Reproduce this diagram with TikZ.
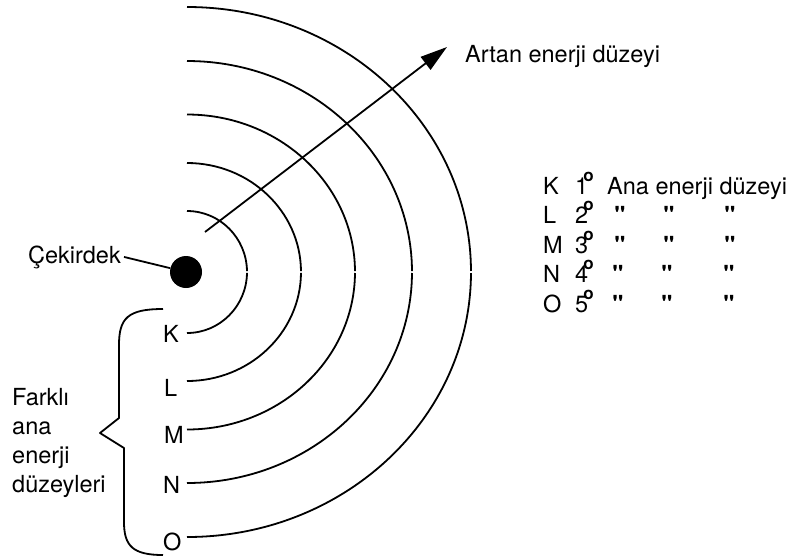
\documentclass[tikz,border=0pt]{standalone}
\usepackage{fontspec}
\setmainfont{TeX Gyre Heros}
\newfontfamily\dittofont{TeX Gyre Heros}[Ligatures=TeXOff]
\usetikzlibrary{arrows.meta}

\newcommand{\degmark}{\kern-5pt\raisebox{13pt}{\fontsize{17}{17}\selectfont\bfseries o}}

\begin{document}
\begin{tikzpicture}[
    x=1pt, y=-1pt,
    shell/.style={line width=1.8pt},
    lbl/.style={inner sep=0pt, font=\fontsize{23.5}{29}\selectfont},
    ditto/.style={inner sep=0pt, anchor=base, font=\fontsize{23.5}{29}\dittofont\bfseries},
    energyarrow/.style={-{Triangle[length=27pt,width=16pt]}, line width=1.8pt},
    brace/.style={line width=1.8pt, line join=round}
  ]
  \useasboundingbox (0,0) rectangle (797,558);

  % nucleus and shells
  \node[circle, fill, inner sep=0pt, minimum size=32pt] (nucleus) at (186,272) {};
  \draw[shell] (187,272) ++(-90:60 and 61) arc[start angle=-90, end angle=-0.9, x radius=60, y radius=61];
  \draw[shell] (187,272) ++(0.9:60 and 61) arc[start angle=0.9, end angle=90, x radius=60, y radius=61];
  \draw[shell] (187,272) ++(-90:114 and 109) arc[start angle=-90, end angle=-0.5, x radius=114, y radius=109];
  \draw[shell] (187,272) ++(0.5:114 and 109) arc[start angle=0.5, end angle=90, x radius=114, y radius=109];
  \draw[shell] (187,272) ++(-90:168 and 157.5) arc[start angle=-90, end angle=-0.36, x radius=168, y radius=157.5];
  \draw[shell] (187,272) ++(0.36:168 and 157.5) arc[start angle=0.36, end angle=90, x radius=168, y radius=157.5];
  \draw[shell] (187,272) ++(-90:225 and 211) arc[start angle=-90, end angle=-0.27, x radius=225, y radius=211];
  \draw[shell] (187,272) ++(0.27:225 and 211) arc[start angle=0.27, end angle=90, x radius=225, y radius=211];
  \draw[shell] (187,272) ++(-90:284 and 265) arc[start angle=-90, end angle=-0.22, x radius=284, y radius=265];
  \draw[shell] (187,272) ++(0.22:284 and 265) arc[start angle=0.22, end angle=90, x radius=284, y radius=265];

  % energy arrow
  \coordinate (arrowstart) at (205,232);
  \coordinate (arrowtip) at (447,47);
  \draw[energyarrow] (arrowstart) -- (arrowtip);
  \node[lbl, anchor=base west] (artan) at (465,62) {Artan enerji düzeyi};

  % nucleus label
  \node[lbl, anchor=base east] (cekirdek) at (121,263) {Çekirdek};
  \draw[shell] ([xshift=3pt]cekirdek.east) -- (nucleus);

  % shell letters
  \node[lbl, anchor=base west] (shK) at (163,342) {K};
  \node[lbl, anchor=base west] (shL) at (164,396) {L};
  \node[lbl, anchor=base west] (shM) at (164,443) {M};
  \node[lbl, anchor=base west] (shN) at (163,493) {N};
  \node[lbl, anchor=base west] (shO) at (163,550) {O};

  % brace
  \draw[brace] (163,309) .. controls (128,309) and (119,318) .. (119,345) -- (119,418)
    -- (100,433) -- (124,448) -- (124,522) .. controls (124,546) and (133,555) .. (163,555);
  \node[lbl, align=left, anchor=west] (farkli) at (12,443) {Farklı\\ana\\enerji\\düzeyleri};

  % legend
  \node[lbl, anchor=base west] (lvK) at (543,194) {K};
  \node[lbl, anchor=base west] (numK) at (575,194) {1\degmark};
  \node[lbl, anchor=base west] (legend) at (607,194) {Ana enerji düzeyi};
  \node[lbl, anchor=base west] (lvL) at (543,223.5) {L};
  \node[lbl, anchor=base west] (numL) at (575,223.5) {2\degmark};
  \node[ditto] (dL1) at (620,223.5) {"};
  \node[ditto] (dL2) at (669,223.5) {"};
  \node[ditto] (dL3) at (730,223.5) {"};
  \node[lbl, anchor=base west] (lvM) at (543,253) {M};
  \node[lbl, anchor=base west] (numM) at (575,253) {3\degmark};
  \node[ditto] (dM1) at (620,253) {"};
  \node[ditto] (dM2) at (669,253) {"};
  \node[ditto] (dM3) at (730,253) {"};
  \node[lbl, anchor=base west] (lvN) at (543,282.5) {N};
  \node[lbl, anchor=base west] (numN) at (575,282.5) {4\degmark};
  \node[ditto] (dN1) at (618,282.5) {"};
  \node[ditto] (dN2) at (667,282.5) {"};
  \node[ditto] (dN3) at (729,282.5) {"};
  \node[lbl, anchor=base west] (lvO) at (543,312) {O};
  \node[lbl, anchor=base west] (numO) at (575,312) {5\degmark};
  \node[ditto] (dO1) at (618,312) {"};
  \node[ditto] (dO2) at (667,312) {"};
  \node[ditto] (dO3) at (729,312) {"};
\end{tikzpicture}
\end{document}
